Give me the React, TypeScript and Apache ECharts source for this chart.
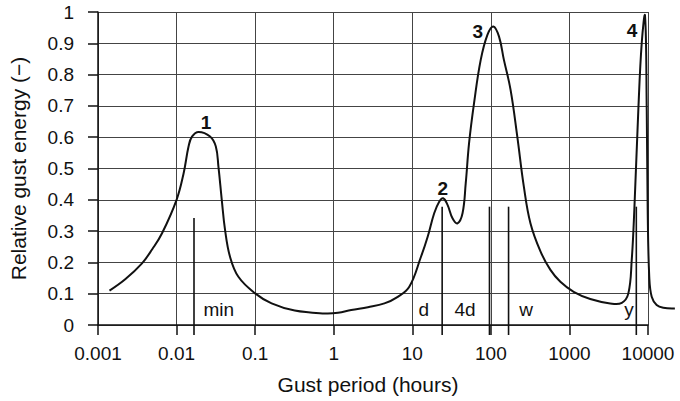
import React, { useEffect, useRef } from "react";
import * as echarts from "echarts";

// Gust period (hours) and relative gust energy
const periods = [
  0.0014, 0.00224, 0.00363, 0.0049, 0.00653, 0.01, 0.0123, 0.0142, 0.0157, 0.0191,
  0.0267, 0.0316, 0.0341, 0.0376, 0.0414, 0.0479, 0.0612, 0.1, 0.162, 0.319,
  0.767, 1.135, 1.67, 2.72, 4.42, 6.53, 9.16, 12.9, 15.7, 19.0,
  22.0, 24.7, 28.1, 32.5, 37.6, 43.6, 47.9, 52.8, 61.1, 74.3,
  90.4, 107.6, 126.8, 146.6, 178, 217, 263, 319, 428, 573,
  767, 1132, 1841, 3304, 4645, 5623, 6209, 6699, 7534, 8318,
  9162, 9638, 9908, 10375, 11143, 12882, 15631, 21979,
];
const energy = [
  0.11, 0.147, 0.197, 0.242, 0.293, 0.4, 0.485, 0.57, 0.602, 0.617,
  0.602, 0.57, 0.506, 0.4, 0.304, 0.218, 0.154, 0.101, 0.069, 0.046,
  0.037, 0.039, 0.048, 0.057, 0.069, 0.09, 0.122, 0.218, 0.282, 0.357,
  0.394, 0.405, 0.384, 0.341, 0.325, 0.357, 0.453, 0.581, 0.709, 0.847,
  0.927, 0.954, 0.922, 0.847, 0.752, 0.602, 0.442, 0.325, 0.235, 0.176,
  0.138, 0.106, 0.083, 0.069, 0.071, 0.101, 0.208, 0.368, 0.688, 0.9,
  0.988, 0.688, 0.368, 0.154, 0.09, 0.064, 0.055, 0.053,
];

// Reference period markers (minute, day, 4 days, week, year)
const markerPeriods = [1 / 60, 24, 96, 168, 7100];
const markerTops = [0.342, 0.378, 0.378, 0.378, 0.378];
const markerBottom = -0.032;

// Marker captions
const noteTexts = ["min", "d", "4d", "w", "y"];
const notePeriods = [0.0345, 14.0, 47, 280, 5740];
const noteLevels = [0.051, 0.051, 0.051, 0.051, 0.051];

// Peak numbers
const peakTexts = ["1", "2", "3", "4"];
const peakPeriods = [0.0237, 24.5, 68, 6280];
const peakLevels = [0.646, 0.435, 0.937, 0.94];

// Axis tick labels
const xTickLabels = ["0.001", "0.01", "0.1", "1", "10", "100", "1000", "10000"];
const yTickLabels = ["0", "0.1", "0.2", "0.3", "0.4", "0.5", "0.6", "0.7", "0.8", "0.9", "1"];

const FONT = '"Liberation Sans", Arial, Helvetica, sans-serif';

export default function App() {
  const ref = useRef<HTMLDivElement>(null);

  useEffect(() => {
    document.body.style.margin = "0";
    if (!ref.current) return;
    const chart = echarts.init(ref.current, null, { renderer: "svg" });

    const textStyleBase = {
      fontFamily: FONT,
      color: "#111",
    };

    chart.setOption({
      animation: false,
      backgroundColor: "#ffffff",
      grid: { left: 96, right: 32, top: 12, bottom: 76 },
      xAxis: {
        type: "log",
        logBase: 10,
        min: 0.001,
        max: 10000,
        name: "Gust period (hours)",
        nameLocation: "middle",
        nameGap: 49,
        nameTextStyle: { ...textStyleBase, fontSize: 21, padding: [0, 10, 0, 0] },
        axisLine: { show: true, lineStyle: { color: "#111", width: 1.5 } },
        axisTick: { show: true, length: 10, lineStyle: { color: "#111", width: 1.5 } },
        axisLabel: {
          ...textStyleBase,
          fontSize: 19,
          margin: 19,
          formatter: (_v: number, i: number) => xTickLabels[i] ?? "",
        },
        splitLine: { show: true, lineStyle: { color: "#444", width: 1 } },
        minorTick: { show: false },
      },
      yAxis: {
        type: "value",
        min: 0,
        max: 1,
        interval: 0.1,
        name: "Relative gust energy (\u2212)",
        nameLocation: "middle",
        nameGap: 69,
        nameTextStyle: { ...textStyleBase, fontSize: 21 },
        axisLine: { show: true, lineStyle: { color: "#111", width: 1.5 } },
        axisTick: { show: true, length: 10, lineStyle: { color: "#111", width: 1.5 } },
        axisLabel: {
          ...textStyleBase,
          fontSize: 19,
          margin: 24,
          formatter: (_v: number, i: number) => yTickLabels[i] ?? "",
        },
        splitLine: { show: true, lineStyle: { color: "#444", width: 1 } },
      },
      series: [
        {
          // the spectrum curve (runs a little past the 10000 h border, so unclipped)
          type: "custom",
          name: "Relative gust energy",
          coordinateSystem: "cartesian2d",
          clip: false,
          silent: true,
          data: [[periods[0], energy[0]]],
          renderItem: (_params: any, api: any) => ({
            type: "polyline",
            shape: {
              points: periods.map((p, i) => api.coord([p, energy[i]])),
              smooth: 0.4,
            },
            style: { stroke: "#111", lineWidth: 2, fill: "none" },
          }),
          z: 4,
        },
        {
          // period marker lines, reaching down past the axis like ticks
          type: "custom",
          coordinateSystem: "cartesian2d",
          clip: false,
          silent: true,
          data: markerPeriods.map((p, i) => [p, markerTops[i]]),
          renderItem: (_params: any, api: any) => {
            const top = api.coord([api.value(0), api.value(1)]);
            const bottom = api.coord([api.value(0), markerBottom]);
            return {
              type: "line",
              shape: { x1: top[0], y1: top[1], x2: bottom[0], y2: bottom[1] },
              style: { stroke: "#111", lineWidth: 1.6 },
            };
          },
          z: 3,
        },
        {
          type: "scatter",
          data: noteTexts.map((t, i) => ({ name: t, value: [notePeriods[i], noteLevels[i]] })),
          symbolSize: 1,
          itemStyle: { color: "rgba(0,0,0,0)", opacity: 1 },
          silent: true,
          label: {
            show: true,
            position: "inside",
            formatter: (p: any) => p.name,
            ...textStyleBase,
            fontSize: 19,
            textBorderWidth: 0,
            opacity: 1,
          },
          z: 5,
        },
        {
          type: "scatter",
          data: peakTexts.map((t, i) => ({ name: t, value: [peakPeriods[i], peakLevels[i]] })),
          symbolSize: 1,
          itemStyle: { color: "rgba(0,0,0,0)", opacity: 1 },
          silent: true,
          label: {
            show: true,
            position: "inside",
            formatter: (p: any) => p.name,
            ...textStyleBase,
            fontSize: 19,
            fontWeight: "bold",
            textBorderWidth: 0,
            opacity: 1,
          },
          z: 5,
        },
      ],
    });

    return () => chart.dispose();
  }, []);

  return <div ref={ref} style={{ width: 680, height: 401 }} />;
}
